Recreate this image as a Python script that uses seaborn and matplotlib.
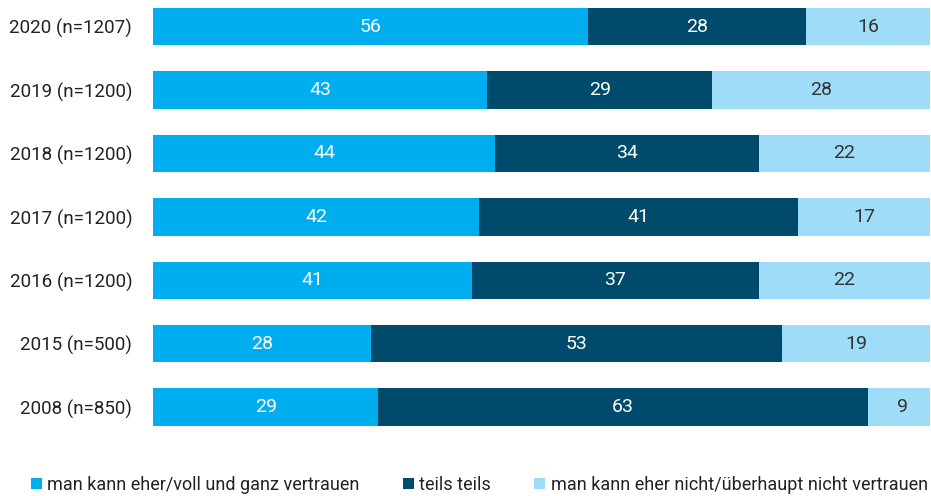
import numpy as np
import pandas as pd
import seaborn as sns
import matplotlib.pyplot as plt
from matplotlib.patches import Patch

years = ['2020 (n=1207)', '2019 (n=1200)', '2018 (n=1200)', '2017 (n=1200)',
         '2016 (n=1200)', '2015 (n=500)', '2008 (n=850)']
vertrauen = [56, 43, 44, 42, 41, 28, 29]
teils = [28, 29, 34, 41, 37, 53, 63]
nicht = [16, 28, 22, 17, 22, 19, 9]

series = ['man kann eher/voll und ganz vertrauen', 'teils teils',
          'man kann eher nicht/überhaupt nicht vertrauen']
colors = ['#00aeef', '#004b6b', '#9edcf7']
text_colors = ['white', 'white', '#333333']

sns.set_theme(style='white')
plt.rcParams['font.family'] = ['Roboto', 'DejaVu Sans']

df = pd.DataFrame({'jahr': years, 's1': vertrauen, 's2': teils, 's3': nicht})
df['c1'] = df['s1']
df['c2'] = df['s1'] + df['s2']
df['c3'] = df['c2'] + df['s3']

fig = plt.figure(figsize=(9.31, 4.96), dpi=100)
ax = fig.add_axes([153 / 931, 1 - 440 / 496, 777 / 931, 440 / 496])

# cumulative totals drawn from widest to narrowest
for col, c in zip(['c3', 'c2', 'c1'], colors[::-1]):
    sns.barplot(data=df, x=col, y='jahr', color=c, width=0.59,
                saturation=1, ax=ax, linewidth=0)

vals = [vertrauen, teils, nicht]
starts = [np.zeros(len(years)), np.array(vertrauen), np.array(vertrauen) + np.array(teils)]
for v, s, tc in zip(vals, starts, text_colors):
    for i, (vv, ss) in enumerate(zip(v, s)):
        ax.text(ss + vv / 2, i, str(vv), ha='center', va='center',
                color=tc, fontsize=14)

ax.set_xlim(0, 100)
ax.set_ylim(6.52, -0.42)
ax.set_xlabel('')
ax.set_ylabel('')
ax.set_xticks([])
ax.tick_params(axis='y', length=0, pad=15, labelsize=13.5, labelcolor='#222222')
sns.despine(ax=ax, left=True, bottom=True)

handles = [Patch(facecolor=c, edgecolor='none') for c in colors]
fig.legend(handles, series, loc='center', bbox_to_anchor=(0.515, 0.022),
           ncol=3, frameon=False, fontsize=13, handlelength=0.6,
           handleheight=0.6, handletextpad=0.3, columnspacing=2.4,
           labelcolor='#222222')

fig.savefig('out.png', dpi=100)
